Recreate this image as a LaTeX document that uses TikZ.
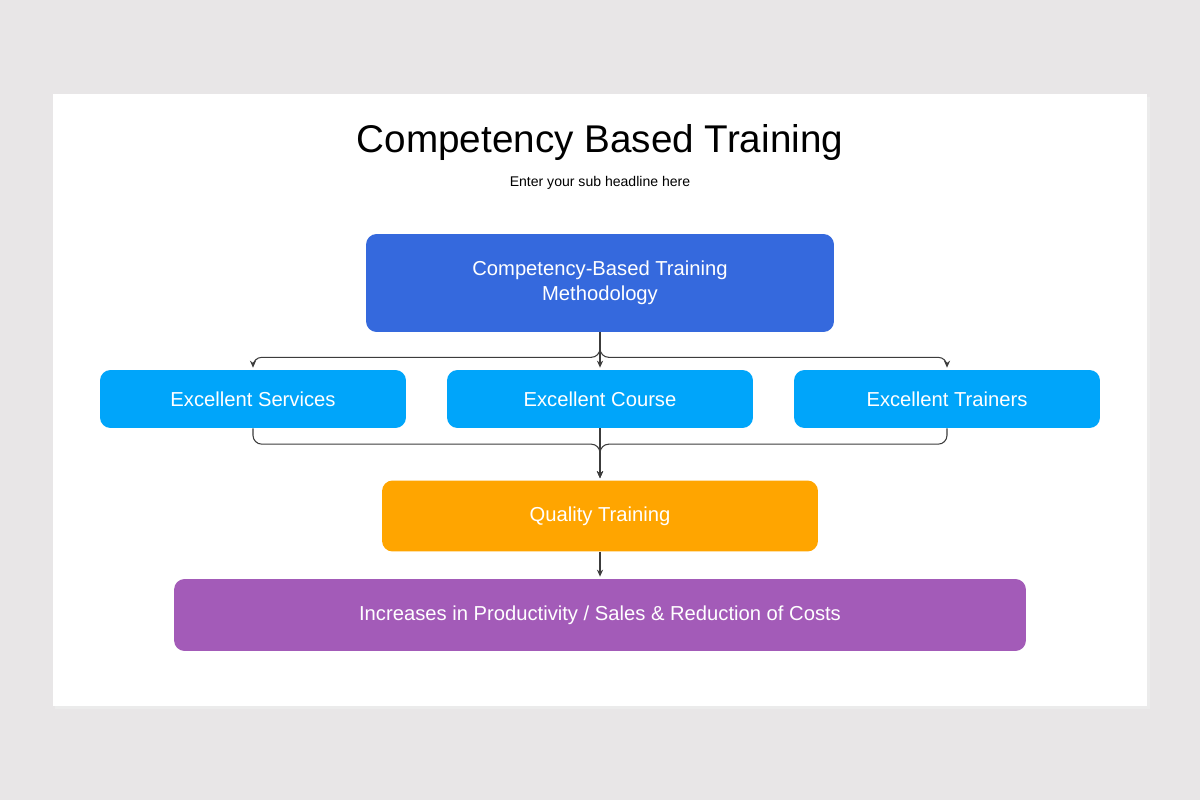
\documentclass[tikz,border=0pt]{standalone}
\usepackage{fontspec}
\setmainfont{Liberation Sans}
\usetikzlibrary{positioning,calc,arrows.meta}
\definecolor{page-grey}{RGB}{232, 230, 231}
\definecolor{top-blue}{RGB}{53, 105, 221}
\definecolor{sky-blue}{RGB}{0, 165, 250}
\definecolor{gold}{RGB}{255, 165, 0}
\definecolor{plum}{RGB}{163, 91, 184}
\definecolor{link-grey}{RGB}{60, 60, 60}
\tikzset{
  box/.style={rounded corners=6pt, text=white, align=center, font=\fontsize{11.5}{14}\selectfont, inner sep=0pt},
  link/.style={draw=link-grey, line width=0.6pt, rounded corners=5pt},
  tip/.style={-{Stealth[length=4pt, width=3.5pt]}}
}
\begin{document}
\begin{tikzpicture}[x=0.02cm, y=-0.02cm]
\fill[page-grey] (0,0) rectangle (1200,800);
\fill[black!8] (55,97) rectangle (1150,709);
\fill[white] (53,94) rectangle (1147,706);

\node (title) at (600,143) {\fontsize{22}{26}\selectfont Competency Based Training};
\node (sub) at (600,183) {\fontsize{8}{10}\selectfont Enter your sub headline here};

% boxes
\node[box, fill=top-blue, minimum width=9.36cm, minimum height=1.96cm] (method) at (600,283) {Competency-Based Training\\Methodology};
\node[box, fill=sky-blue, minimum width=6.12cm, minimum height=1.16cm] (course) at (600,399) {Excellent Course};
\node[box, fill=sky-blue, minimum width=6.12cm, minimum height=1.16cm] (serv) at (253,399) {Excellent Services};
\node[box, fill=sky-blue, minimum width=6.12cm, minimum height=1.16cm] (train) at (947,399) {Excellent Trainers};
\node[box, fill=gold, minimum width=8.72cm, minimum height=1.42cm] (qual) at (600,516) {Quality Training};
\node[box, fill=plum, minimum width=17.04cm, minimum height=1.44cm] (gain) at (600,615) {Increases in Productivity / Sales \& Reduction of Costs};

% connectors
\draw[link, tip] (method.south) -- ++(0,25) -| ($(serv.north)+(0,-2)$);
\draw[link, tip] (method.south) -- ++(0,25) -| ($(train.north)+(0,-2)$);
\draw[link, tip] (method.south) -- ($(course.north)+(0,-2)$);
\draw[link, tip] (serv.south) |- ($(qual.north)+(0,-36)$) -- ($(qual.north)+(0,-2)$);
\draw[link, tip] (train.south) |- ($(qual.north)+(0,-36)$) -- ($(qual.north)+(0,-2)$);
\draw[link, tip] (course.south) -- ($(qual.north)+(0,-2)$);
\draw[link, tip] (qual.south) -- ($(gain.north)+(0,-2)$);
\end{tikzpicture}
\end{document}
